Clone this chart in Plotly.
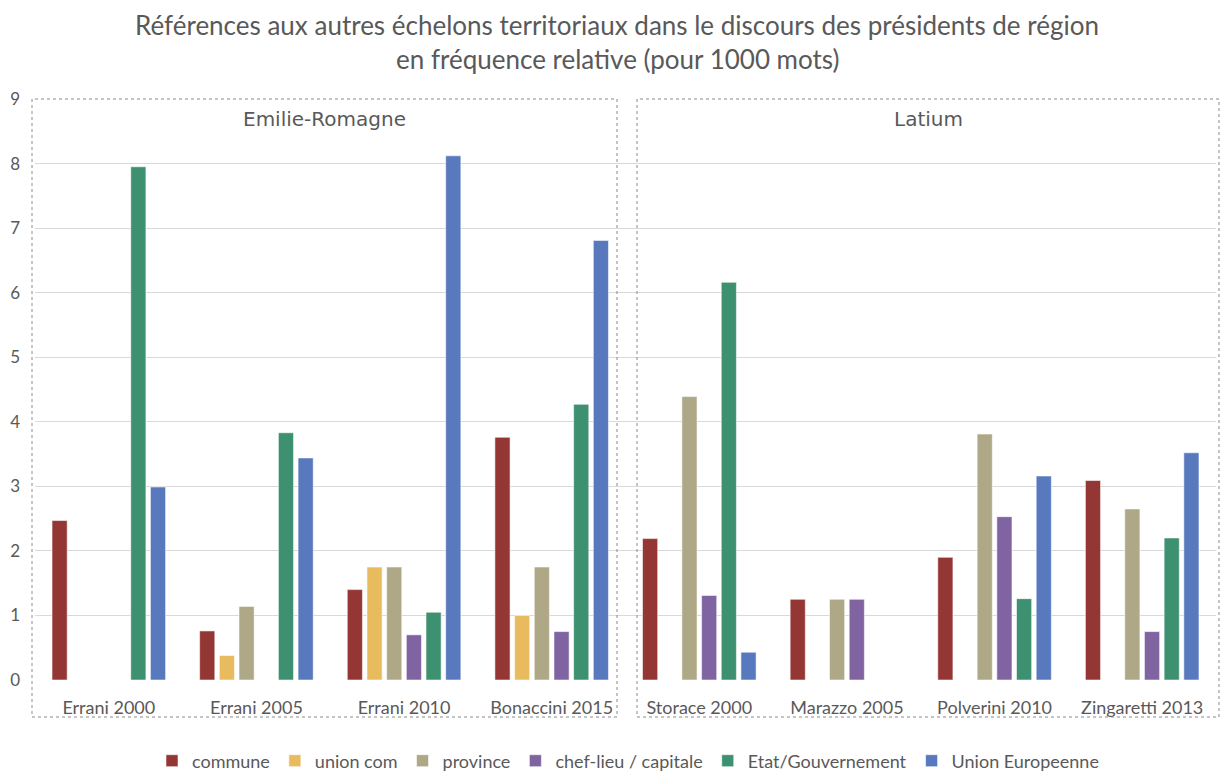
import plotly.graph_objects as go

# Speeches (x categories), in display order
categories = [
    "Errani 2000", "Errani 2005", "Errani 2010", "Bonaccini 2015",
    "Storace 2000", "Marazzo 2005", "Polverini 2010", "Zingaretti 2013",
]

# Relative frequency (per 1000 words) for each territorial level; None = not mentioned
commune = [2.47, 0.76, 1.40, 3.76, 2.19, 1.25, 1.90, 3.09]
union_com = [None, 0.38, 1.75, 1.00, None, None, None, None]
province = [None, 1.14, 1.75, 1.75, 4.39, 1.25, 3.81, 2.65]
chef_lieu = [None, None, 0.70, 0.75, 1.31, 1.25, 2.53, 0.75]
etat = [7.95, 3.83, 1.05, 4.27, 6.16, None, 1.26, 2.20]
union_eu = [2.99, 3.44, 8.12, 6.81, 0.43, None, 3.16, 3.52]

series = [
    ("commune", commune, "#943634"),
    ("union com", union_com, "#E8BC5E"),
    ("province", province, "#AEA886"),
    ("chef-lieu / capitale", chef_lieu, "#8064A2"),
    ("Etat/Gouvernement", etat, "#3D9070"),
    ("Union Europeenne", union_eu, "#5879BE"),
]

regions = ["Emilie-Romagne", "Latium"]
y_ticks = list(range(0, 10))
title_lines = [
    "Références aux autres échelons territoriaux dans le discours des présidents de région",
    "en fréquence relative (pour 1000 mots)",
]

GREY = "#595959"
W, H = 1221, 772
L, R, T, B = 35, 5, 99, 92
pw, ph = W - L - R, H - T - B


def px_x(x):
    return (x - L) / pw


def px_y(y):
    return (H - B - y) / ph


fig = go.Figure()
for name, vals, col in series:
    fig.add_trace(go.Bar(
        name=name, x=categories, y=vals,
        marker=dict(color=col, line=dict(color="rgba(255,255,255,0.55)", width=1)),
    ))

# Dotted frames around each region group (multi-level category axis)
frames = [(32, 617), (637, 1219)]
for (x0, x1), label in zip(frames, regions):
    fig.add_shape(
        type="rect", xref="paper", yref="paper",
        x0=px_x(x0), x1=px_x(x1), y0=px_y(717), y1=px_y(99),
        line=dict(color="#8a8a8a", width=1, dash="dot"), layer="above",
    )
    fig.add_annotation(
        text=label, xref="paper", yref="paper",
        x=px_x((x0 + x1) / 2), y=px_y(119), xanchor="center", yanchor="middle",
        showarrow=False, font=dict(family="DejaVu Sans", size=20, color=GREY),
    )

# Two-line chart title
for line, ypix in zip(title_lines, [25, 59]):
    fig.add_annotation(
        text=line, xref="paper", yref="paper",
        x=px_x(617), y=px_y(ypix), xanchor="center", yanchor="middle",
        showarrow=False, font=dict(family="Lato", size=26, color=GREY),
    )

fig.update_layout(
    width=W, height=H,
    margin=dict(l=L, r=R, t=T, b=B, autoexpand=False),
    paper_bgcolor="white", plot_bgcolor="white",
    barmode="group", bargap=0.2, bargroupgap=0.23,
    font=dict(family="Lato", color=GREY),
    xaxis=dict(
        showgrid=False, showline=False, ticks="",
        tickfont=dict(family="Lato", size=18, color=GREY),
        ticklabelstandoff=15,
    ),
    yaxis=dict(
        range=[0, 9], tickvals=y_ticks, showline=False, zeroline=False,
        gridcolor="#D9D9D9", gridwidth=1,
        tickfont=dict(family="Lato", size=17, color=GREY),
        ticklabelstandoff=14,
    ),
    legend=dict(
        orientation="h", x=px_x(628), xanchor="center", y=px_y(761), yanchor="middle",
        font=dict(family="Lato", size=18, color=GREY),
        itemwidth=30, traceorder="normal",
    ),
)

fig.write_html("out.html")
